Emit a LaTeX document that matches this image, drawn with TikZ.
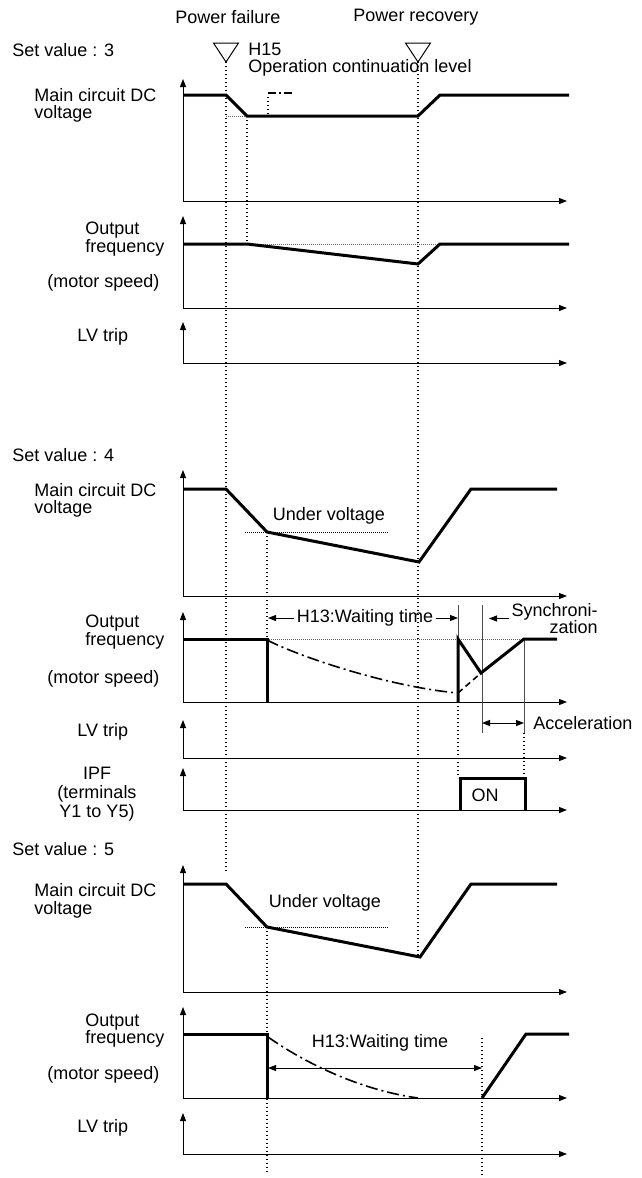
\documentclass[tikz,border=0pt]{standalone}
\usepackage{fontspec}
\setmainfont{Liberation Sans}
\usetikzlibrary{arrows.meta}

\begin{document}
\begin{tikzpicture}[
    x=0.5pt, y=-0.5pt,
    lbl/.style={font=\fontsize{9}{8.8}\selectfont, inner sep=1pt, align=left},
    axis/.style={line width=0.5pt, {Triangle[length=4pt,width=3pt]}-{Triangle[length=4pt,width=3pt]}},
    wave/.style={line width=1.5pt},
    guide/.style={line width=0.7pt, dash pattern=on 0.7pt off 1.3pt},
    level/.style={black!60, line width=0.5pt, dash pattern=on 0.5pt off 0.5pt},
    coast/.style={line width=0.8pt, dash pattern=on 6pt off 2pt on 1pt off 2pt},
    dim/.style={line width=0.5pt, -{Triangle[length=4pt,width=3pt]}},
    tick/.style={black!70, line width=0.5pt}
  ]
  \useasboundingbox (0,0) rectangle (642,1178);

  % events
  \coordinate (pf) at (226,62);
  \coordinate (pr) at (418,62);
  \node[lbl] (fail) at (228,17) {Power failure};
  \node[lbl] (recov) at (416,17) {Power recovery};
  \draw[line width=0.5pt] (pf) -- ++(-12.5,-19) -- ++(25,0) -- cycle;
  \draw[line width=0.5pt] (pr) -- ++(-12.5,-19) -- ++(25,0) -- cycle;
  \node[lbl, anchor=west] (h15) at (246,59.5) {H15\\Operation continuation level};
  \draw[guide] (pf) -- (pf |- 0,873);
  \draw[guide] (pr) -- (pr |- 0,955);

  % axes
  \foreach \ya/\yb in {79/201, 216/308, 322/363, 470/596, 612/702, 720/758,
                       768/810, 865/992, 1007/1098, 1113/1154}
    \draw[axis] (183,\ya) |- (567,\yb);

  % set value 3
  \node[lbl, anchor=west] (sv3) at (10,50) {Set value : 3};
  \node[lbl, anchor=west] (dc3) at (32,105.5) {Main circuit DC\\voltage};
  \node[lbl, anchor=west] (of3) at (83,239) {Output\\frequency};
  \node[lbl, anchor=west] (ms3) at (45,283) {(motor speed)};
  \node[lbl, anchor=west] (lv3) at (75,337) {LV trip};
  \draw[level] (226,116) -- (247,116);
  \draw[level] (247,244) -- (440,244);
  \draw[guide] (247,116) -- (247,244);
  \draw[guide] (268,114) -- (268,95);
  \draw[line width=0.7pt, dash pattern=on 4pt off 1.5pt on 1pt off 1.5pt] (268,93) -- (293,93);
  \draw[wave] (183,95) -- (226,95) -- (247,116) -- (418,116) -- (440,95) -- (569,95);
  \draw[wave] (183,244) -- (247,244) -- (418,264) -- (440,244) -- (569,244);

  % set value 4
  \node[lbl, anchor=west] (sv4) at (10,455) {Set value : 4};
  \node[lbl, anchor=west] (dc4) at (32,500.5) {Main circuit DC\\voltage};
  \node[lbl, anchor=west] (of4) at (83,632) {Output\\frequency};
  \node[lbl, anchor=west] (ms4) at (45,679) {(motor speed)};
  \node[lbl, anchor=west] (lv4) at (75,732) {LV trip};
  \node[lbl, align=center, font=\fontsize{9}{9.6}\selectfont] (ipf) at (97,794) {IPF\\(terminals\\Y1 to Y5)};
  \node[lbl] (uv4) at (329,516) {Under voltage};
  \draw[level, black] (245,532) -- (389,532);
  \draw[level] (247,639) -- (523,639);
  \draw[guide] (267,532) -- (267,639);
  \draw[wave] (183,489) -- (226,489) -- (267,532) -- (419,562) -- (471,489) -- (557,489);
  \draw[wave] (183,639) -- (267,639) -- (267,702);
  \draw[coast] (267,640) .. controls (300,657) and (390,687) .. (458,693);
  \draw[line width=0.8pt, dash pattern=on 3pt off 2pt] (458,693) -- (481,673);
  \draw[tick] (458,605) -- (458,639);
  \draw[tick] (482,605) -- (482,733);
  \draw[tick] (524,639) -- (524,733);
  \draw[wave] (458,702) -- (458,639) -- (481,673) -- (524,639) -- (557,639);
  \draw[guide] (458,702) -- (458,778);
  \draw[guide] (524,733) -- (524,778);
  \node[lbl] (wait4) at (365,618) {H13:Waiting time};
  \draw[dim] (wait4.west) -- (268,618);
  \draw[dim] (wait4.east) -- (458,618);
  \node[lbl, align=right, anchor=east] (sync) at (600,618.5) {Synchroni-\\zation};
  \draw[dim] (sync.west) -- (489,618.5);
  \node[lbl, anchor=west] (accel) at (531,723) {Acceleration};
  \draw[dim, {Triangle[length=4pt,width=3pt]}-{Triangle[length=4pt,width=3pt]}] (482,723) -- (524,723);
  \draw[wave] (460,810) -- (460,778) -- (525,778) -- (525,810);
  \node[lbl] (on) at (485,795) {ON};

  % set value 5
  \node[lbl, anchor=west] (sv5) at (10,849) {Set value : 5};
  \node[lbl, anchor=west] (dc5) at (32,901) {Main circuit DC\\voltage};
  \node[lbl, anchor=west] (of5) at (83,1030.5) {Output\\frequency};
  \node[lbl, anchor=west] (ms5) at (45,1075) {(motor speed)};
  \node[lbl, anchor=west] (lv5) at (75,1128) {LV trip};
  \node[lbl] (uv5) at (325,903) {Under voltage};
  \draw[level, black] (245,927) -- (389,927);
  \draw[guide] (267,927) -- (267,1174);
  \draw[guide] (482,1038) -- (482,1175);
  \draw[wave] (183,884) -- (226,884) -- (267,927) -- (420,957) -- (471,884) -- (557,884);
  \draw[wave] (183,1034) -- (267,1034) -- (267,1098);
  \draw[coast] (268,1037) .. controls (305,1063) and (360,1090) .. (418,1098);
  \draw[wave] (482,1098) -- (526,1034) -- (569,1034);
  \node[lbl] (wait5) at (380,1043) {H13:Waiting time};
  \draw[dim, {Triangle[length=4pt,width=3pt]}-{Triangle[length=4pt,width=3pt]}] (268,1068) -- (482,1068);
\end{tikzpicture}
\end{document}
